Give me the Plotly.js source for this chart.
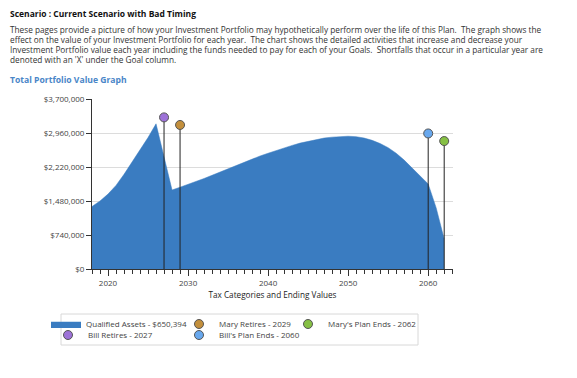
<!DOCTYPE html>
<html>
<head>
<meta charset="utf-8">
<script src="https://cdn.plot.ly/plotly-3.0.1.min.js"></script>
<style>
  html, body { margin:0; padding:0; background:#fff; width:577px; height:378px; overflow:hidden; }
  #chart { position:absolute; left:0; top:0; width:577px; height:378px; }
  .hdr { position:absolute; left:10px; white-space:nowrap; font-family:"Open Sans", "Noto Sans", sans-serif; color:#222; z-index:5; }
  #t1 { top:8px; font-size:8.5px; font-weight:bold; color:#111; }
  .p { font-size:8.25px; color:#333; }
  #t2 { top:74px; font-size:8.6px; font-weight:bold; color:#4a86c8; }
</style>
</head>
<body>
<div id="chart"></div>
<div class="hdr" id="t1">Scenario : Current Scenario with Bad Timing</div>
<div class="hdr p" style="top:24px">These pages provide a picture of how your Investment Portfolio may hypothetically perform over the life of this Plan.&nbsp; The graph shows the</div>
<div class="hdr p" style="top:34px">effect on the value of your Investment Portfolio for each year.&nbsp; The chart shows the detailed activities that increase and decrease your</div>
<div class="hdr p" style="top:44px">Investment Portfolio value each year including the funds needed to pay for each of your Goals.&nbsp; Shortfalls that occur in a particular year are</div>
<div class="hdr p" style="top:54px">denoted with an 'X' under the Goal column.</div>
<div class="hdr" id="t2">Total Portfolio Value Graph</div>
<script>
const years = [2018,2019,2020,2021,2022,2023,2024,2025,2026,2027,2028,2029,2030,2031,2032,2033,2034,2035,2036,2037,2038,2039,2040,2041,2042,2043,2044,2045,2046,2047,2048,2049,2050,2051,2052,2053,2054,2055,2056,2057,2058,2059,2060,2061,2062];
const qualifiedAssets = [1360000,1480000,1630000,1820000,2060000,2320000,2580000,2860000,3160000,2440000,1720000,1780000,1840000,1900000,1970000,2040000,2110000,2190000,2260000,2330000,2400000,2460000,2520000,2580000,2640000,2690000,2740000,2780000,2820000,2850000,2870000,2885000,2890000,2880000,2850000,2800000,2730000,2640000,2520000,2370000,2200000,2030000,1850000,1330000,650394];

const goalNames  = ["Bill Retires - 2027", "Mary Retires - 2029", "Bill's Plan Ends - 2060", "Mary's Plan Ends - 2062"];
const goalYears  = [2027, 2029, 2060, 2062];
const goalMarkerValues = [3300000, 3135000, 2950000, 2785000];
const goalColors = ["#9d72d8", "#c38f3c", "#68a8ee", "#86c044"];
const goalLegends = ["legend2", "legend3", "legend4", "legend5"];

const yTicks = [0, 740000, 1480000, 2220000, 2960000, 3700000];
const yTickText = ["$0", "$740,000", "$1,480,000", "$2,220,000", "$2,960,000", "$3,700,000"];
const xTicks = [2020, 2030, 2040, 2050, 2060];

const traces = [];
traces.push({
  x: years, y: qualifiedAssets, type: 'scatter', mode: 'lines',
  fill: 'tozeroy', fillcolor: '#3a7cc1', line: {color: '#3a7cc1', width: 0.5},
  name: 'Qualified Assets - $650,394', legend: 'legend', hoverinfo: 'skip'
});
for (let i = 0; i < goalYears.length; i++) {
  traces.push({
    x: [goalYears[i], goalYears[i]], y: [0, goalMarkerValues[i]],
    type: 'scatter', mode: 'lines', line: {color: '#222', width: 1},
    showlegend: false, hoverinfo: 'skip'
  });
}
for (let i = 0; i < goalYears.length; i++) {
  traces.push({
    x: [goalYears[i]], y: [goalMarkerValues[i]], type: 'scatter', mode: 'markers',
    marker: {color: goalColors[i], size: 9, line: {color: '#555', width: 1}},
    name: goalNames[i], legend: goalLegends[i], cliponaxis: false, hoverinfo: 'skip'
  });
}

const W = 577, H = 378;
function lg(px, py) {
  return {x: px / W, y: 1 - py / H, xref: 'container', yref: 'container', xanchor: 'left', yanchor: 'middle',
    bgcolor: 'rgba(0,0,0,0)', borderwidth: 0, itemwidth: 30,
    font: {family: 'Open Sans, sans-serif', size: 8, color: '#444'}};
}

const layout = {
  width: W, height: H,
  margin: {l: 92, r: 124, t: 99, b: 109, pad: 0, autoexpand: false},
  paper_bgcolor: 'rgba(0,0,0,0)', plot_bgcolor: '#fff',
  font: {family: 'Open Sans, sans-serif', color: '#444'},
  xaxis: {
    range: [2018, 2063.1], tickvals: xTicks, ticks: 'outside', ticklen: 6, tickcolor: '#333', tickwidth: 1,
    minor: {dtick: 1, tick0: 2018, ticks: 'outside', ticklen: 4, tickcolor: '#333', showgrid: false},
    showline: true, linecolor: '#333', linewidth: 1, showgrid: false, zeroline: false,
    tickfont: {size: 8, color: '#444'},
    title: {text: 'Tax Categories and Ending Values', font: {size: 8.2, color: '#222'}, standoff: 5}
  },
  yaxis: {
    range: [0, 3700000], tickvals: yTicks, ticktext: yTickText, ticks: 'outside', ticklen: 5, tickcolor: '#333',
    showline: true, linecolor: '#333', linewidth: 1, showgrid: true, gridcolor: '#dcdcdc', gridwidth: 1,
    zeroline: false, tickfont: {size: 8, color: '#444'}
  },
  showlegend: true,
  legend:  lg(46, 324),
  legend2: lg(48, 335),
  legend3: lg(179, 324),
  legend4: lg(179, 335),
  legend5: lg(288, 324),
  shapes: [{type: 'rect', xref: 'paper', yref: 'paper',
    x0: (61 - 92) / 361, x1: (418 - 92) / 361, y0: (269 - 345) / 170, y1: (269 - 314) / 170,
    line: {color: '#d8d8d8', width: 1}, fillcolor: 'rgba(0,0,0,0)'}]
};

Plotly.newPlot('chart', traces, layout, {staticPlot: true, displayModeBar: false});
</script>
</body>
</html>
